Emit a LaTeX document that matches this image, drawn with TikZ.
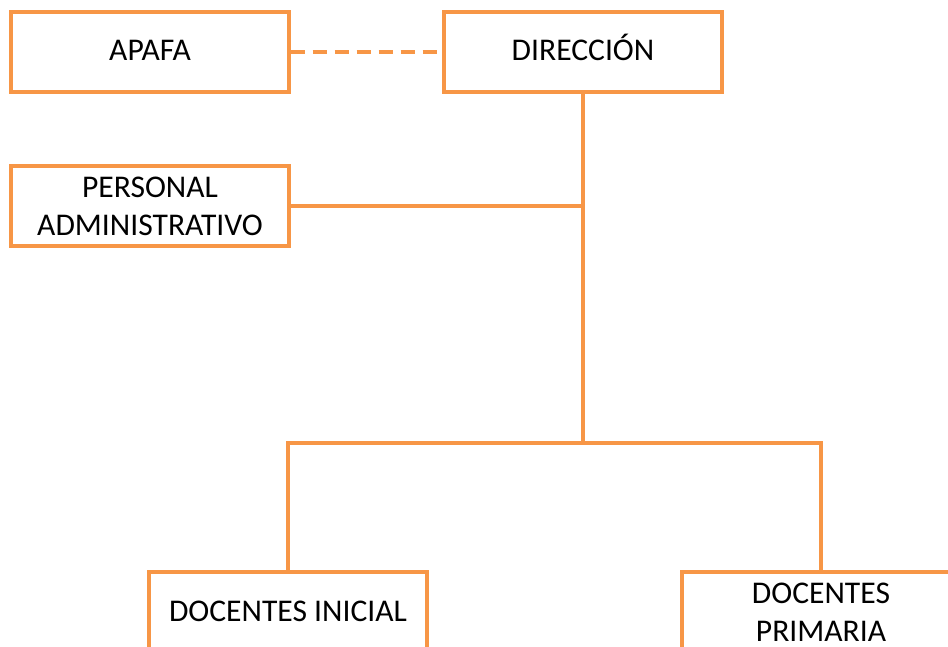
\documentclass[tikz,border=0pt]{standalone}
\usepackage{fontspec}
\setmainfont{Carlito}
\usetikzlibrary{positioning}
\definecolor{orgline}{HTML}{F79646}
\tikzset{
    unit/.style={draw=orgline, line width=1.7pt, fill=white, align=center,
                 minimum width=139pt, minimum height=40pt, inner sep=2pt,
                 font=\fontsize{15.8}{19}\selectfont},
    oneline/.style={text height=10pt, text depth=1pt},
    link/.style={draw=orgline, line width=1.7pt},
}
\begin{document}
\begin{tikzpicture}[x=0.5pt, y=-0.5pt]
    \clip (0, 0) rectangle (948, 647);
    \node[unit, oneline] (apafa) at (150, 52) {APAFA};
    \node[unit, oneline] (dir) at (583, 52) {DIRECCIÓN};
    \node[unit] (admin) at (150, 206) {PERSONAL\\ADMINISTRATIVO};
    \node[unit, oneline] (inicial) at (288, 612) {DOCENTES INICIAL};
    \node[unit] (primaria) at (821, 612) {DOCENTES\\PRIMARIA};
    \coordinate (bar) at (583, 443);
    % connectors
    \path[link, dash pattern=on 7pt off 4pt] (apafa) -- (dir);
    \path[link] (dir.south) -- (bar);
    \path[link] (admin.east) -- (admin.east -| dir.south);
    \path[link] (inicial.north) |- (bar) -| (primaria.north);
\end{tikzpicture}
\end{document}
